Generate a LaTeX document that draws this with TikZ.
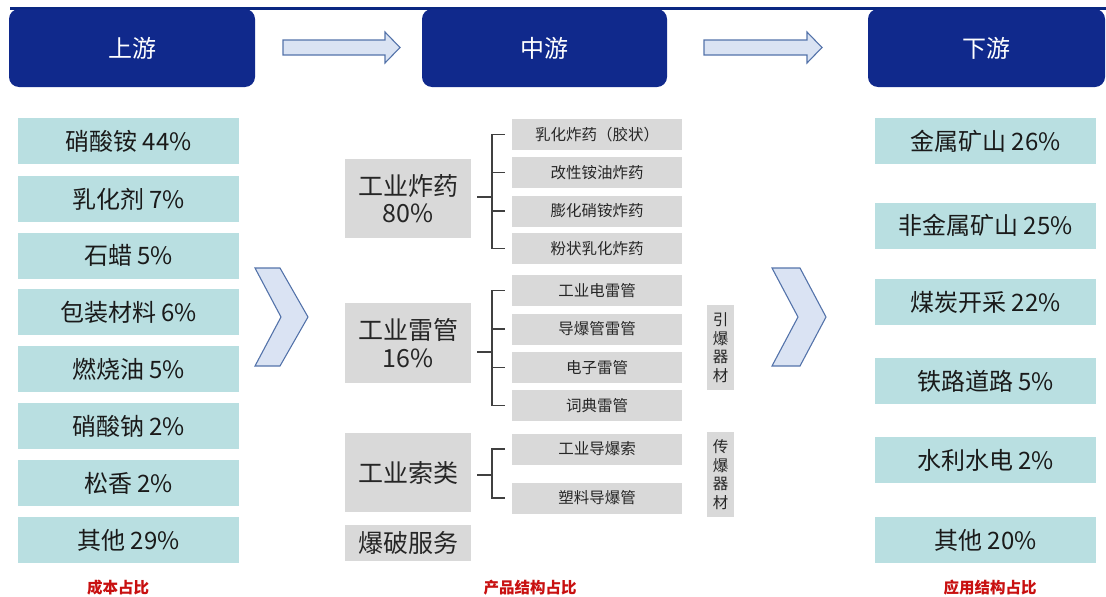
\documentclass[tikz,border=0pt]{standalone}
\usepackage{fontspec}
\setmainfont{Noto Sans CJK SC}
\usetikzlibrary{calc}
\definecolor{hdr}{RGB}{16,41,140}
\definecolor{topline}{RGB}{10,40,130}
\definecolor{tealbox}{RGB}{185,223,225}
\definecolor{grybox}{RGB}{217,217,217}
\definecolor{txtA}{RGB}{26,26,26}
\definecolor{txtB}{RGB}{38,38,38}
\definecolor{arrfill}{RGB}{218,227,243}
\definecolor{arrdraw}{RGB}{84,115,170}
\definecolor{redlbl}{RGB}{200,16,16}
\definecolor{brk}{RGB}{64,64,64}
\tikzset{
  hbox/.style={fill=hdr, rounded corners=10pt, text=white, minimum height=78pt, inner sep=0pt, font=\fontsize{24}{28}\selectfont},
  lbox/.style={fill=tealbox, minimum width=221pt, minimum height=46pt, inner sep=0pt, text=txtA, font=\fontsize{24}{28}\selectfont},
  gbig/.style={fill=grybox, minimum width=126pt, inner sep=0pt, align=center, text=txtB, font=\fontsize{25}{27.5}\selectfont},
  gsub/.style={fill=grybox, minimum width=170pt, minimum height=31pt, inner sep=0pt, text=txtB, font=\fontsize{15.5}{18}\selectfont},
  gvert/.style={fill=grybox, minimum width=27pt, minimum height=85pt, inner sep=0pt, align=center, text=txtB, font=\fontsize{15.5}{18.5}\selectfont},
  redtxt/.style={text=redlbl, font=\fontsize{15.5}{18}\selectfont\bfseries},
  blockarrow/.style={fill=arrfill, draw=arrdraw, line width=1.1pt, line join=miter},
  brline/.style={draw=brk, line width=1.4pt}
}
\begin{document}
\begin{tikzpicture}[x=1pt,y=-1pt]
\useasboundingbox (0,0) rectangle (1106,597);
% top rule
\draw[topline, line width=3pt] (10,8) coordinate (tl1) -- (1106,8) coordinate (tl2);

% headers
\node[hbox, minimum width=246pt] (up) at (132,48) {上游};
\node[hbox, minimum width=245pt] (mid) at (544.5,48) {中游};
\node[hbox, minimum width=237pt] (down) at (986.5,48) {下游};

% block arrows
\draw[blockarrow] (283,40) -- (385,40) -- (385,32) -- (400,47.5) -- (385,63) -- (385,55) -- (283,55) -- cycle;
\draw[blockarrow] (704,40) -- (807,40) -- (807,32) -- (822,47.5) -- (807,63) -- (807,55) -- (704,55) -- cycle;

% chevrons
\draw[blockarrow] (255,268) -- (280,268) -- (308,317) -- (280,366) -- (255,366) -- (281,317) -- cycle;
\draw[blockarrow] (772,268) -- (800,268) -- (826,317) -- (800,366) -- (772,366) -- (798,317) -- cycle;

% upstream
\node[lbox] (l1) at (128.5,141) {硝酸铵 44\%};
\node[lbox] (l2) at (128.5,199) {乳化剂 7\%};
\node[lbox] (l3) at (128.5,255.5) {石蜡 5\%};
\node[lbox] (l4) at (128.5,312) {包装材料 6\%};
\node[lbox] (l5) at (128.5,369) {燃烧油 5\%};
\node[lbox] (l6) at (128.5,426) {硝酸钠 2\%};
\node[lbox] (l7) at (128.5,483) {松香 2\%};
\node[lbox] (l8) at (128.5,540) {其他 29\%};
\node[redtxt] (rl1) at (118,588) {成本占比};

% downstream
\node[lbox] (r1) at (985.5,141) {金属矿山 26\%};
\node[lbox] (r2) at (985.5,225.5) {非金属矿山 25\%};
\node[lbox] (r3) at (985.5,302) {煤炭开采 22\%};
\node[lbox] (r4) at (985.5,381) {铁路道路 5\%};
\node[lbox] (r5) at (985.5,460) {水利水电 2\%};
\node[lbox] (r6) at (985.5,540) {其他 20\%};
\node[redtxt] (rl3) at (990,588) {应用结构占比};

% midstream big boxes
\node[gbig, minimum height=79pt] (A) at (408,198.5) {工业炸药\\80\%};
\node[gbig, minimum height=80pt] (B) at (408,343) {工业雷管\\16\%};
\node[gbig, minimum height=79pt] (C) at (408,472.5) {工业索类};
\node[gbig, minimum height=36pt] (D) at (408,543) {爆破服务};

% sub boxes
\node[gsub] (a1) at (597,134.5) {乳化炸药（胶状）};
\node[gsub] (a2) at (597,172.5) {改性铵油炸药};
\node[gsub] (a3) at (597,211) {膨化硝铵炸药};
\node[gsub] (a4) at (597,248.5) {粉状乳化炸药};
\node[gsub] (b1) at (597,290.5) {工业电雷管};
\node[gsub] (b2) at (597,329) {导爆管雷管};
\node[gsub] (b3) at (597,367.5) {电子雷管};
\node[gsub] (b4) at (597,405.5) {词典雷管};
\node[gsub] (c1) at (597,449) {工业导爆索};
\node[gsub] (c2) at (597,498) {塑料导爆管};

\node[gvert] (v1) at (720.5,347.5) {引\\爆\\器\\材};
\node[gvert] (v2) at (720.5,474.5) {传\\爆\\器\\材};

\node[redtxt] (rl2) at (530,588) {产品结构占比};

% brackets
\coordinate (j1) at (492,197);
\coordinate (j2) at (492,352);
\coordinate (j3) at (492,475);
\draw[brline] ($(A.east |- j1)+(6pt,0)$) -- (j1);
\draw[brline] ($(a1.west)+(-7pt,0)$) -- (a1.west -| j1) -- (a4.west -| j1) -- ($(a4.west)+(-7pt,0)$);
\draw[brline] (a2.west -| j1) -- ($(a2.west)+(-7pt,0)$);
\draw[brline] (a3.west -| j1) -- ($(a3.west)+(-7pt,0)$);

\draw[brline] ($(B.east |- j2)+(6pt,0)$) -- (j2);
\draw[brline] ($(b1.west)+(-7pt,0)$) -- (b1.west -| j2) -- (b4.west -| j2) -- ($(b4.west)+(-7pt,0)$);
\draw[brline] (b2.west -| j2) -- ($(b2.west)+(-7pt,0)$);
\draw[brline] (b3.west -| j2) -- ($(b3.west)+(-7pt,0)$);

\draw[brline] ($(C.east |- j3)+(6pt,0)$) -- (j3);
\draw[brline] ($(c1.west)+(-7pt,0)$) -- (c1.west -| j3) -- (c2.west -| j3) -- ($(c2.west)+(-7pt,0)$);
\end{tikzpicture}
\end{document}
